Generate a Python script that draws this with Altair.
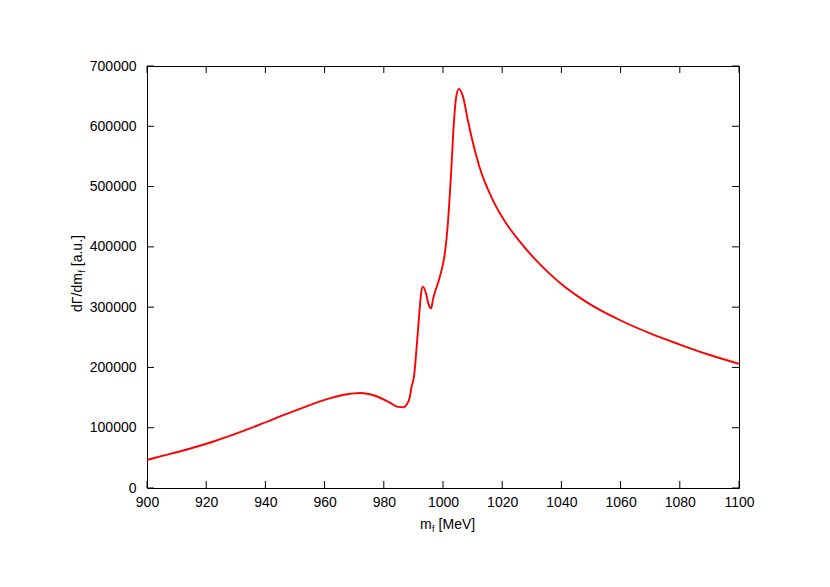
import altair as alt
import pandas as pd

# ---- data ----
mass = [900, 903.4, 913.2, 923.0, 932.8, 942.6, 952.5, 962.3, 967.2, 972.1, 977.0,
        981.9, 984.8, 986.8, 987.8, 988.8, 989.25, 990.2, 991.2, 992.0, 992.6, 993.2,
        994.25, 995.1, 996.0, 996.6, 997.1, 998.3, 999.55, 1000.5, 1001.5, 1002.8,
        1003.6, 1004.5, 1005.4, 1006.7, 1008.4, 1009.6, 1012.3, 1016.8, 1021.2, 1026.1,
        1031.0, 1035.9, 1040.8, 1045.7, 1050.6, 1060.4, 1070.2, 1080.0, 1089.9, 1100]
rate = [46500, 51000, 63500, 78000, 95000, 114000, 133000, 149500, 155000, 157500,
        153000, 142000, 134500, 134000, 139000, 151000, 165000, 185000, 240000, 290000,
        323000, 334000, 323000, 305000, 298000, 312000, 322000, 340000, 362000, 385000,
        430000, 528000, 600000, 650000, 662000, 650000, 610000, 583000, 533000, 478000,
        440000, 408000, 380000, 356000, 335000, 317500, 302000, 277000, 256000, 238000,
        221000, 206000]

x_ticks = [900, 920, 940, 960, 980, 1000, 1020, 1040, 1060, 1080, 1100]
y_ticks = [0, 100000, 200000, 300000, 400000, 500000, 600000, 700000]

W, H = 592, 422
FONT = "Liberation Sans"
FS = 14

df = pd.DataFrame({"mass": mass, "rate": rate})
xt = pd.DataFrame({"mass": x_ticks})
yt = pd.DataFrame({"rate": y_ticks})
one = pd.DataFrame({"a": [0]})

xscale = alt.Scale(domain=[900, 1100], nice=False, zero=False)
yscale = alt.Scale(domain=[0, 700000], nice=False)

xaxis = alt.Axis(values=x_ticks, title=None, ticks=False, domain=False, grid=False,
                 labelFontSize=FS, labelFont=FONT, labelColor="black",
                 labelPadding=7, labelFlush=False, labelOverlap=False, format="d")
yaxis = alt.Axis(values=y_ticks, title=None, ticks=False, domain=False, grid=False,
                 labelFontSize=FS, labelFont=FONT, labelColor="black",
                 labelPadding=11, labelOverlap=False, format="d")

X = alt.X("mass:Q", scale=xscale, axis=xaxis)
Y = alt.Y("rate:Q", scale=yscale, axis=yaxis)

line = alt.Chart(df).mark_line(color="#ff0000", strokeWidth=1.9, interpolate="monotone").encode(
    x=X, y=Y)

TL = 7
bottom = alt.Chart(xt).mark_rule(color="black", strokeWidth=1).encode(
    x=X, y=alt.value(H), y2=alt.value(H - TL))
top = alt.Chart(xt).mark_rule(color="black", strokeWidth=1).encode(
    x=X, y=alt.value(0), y2=alt.value(TL))
left = alt.Chart(yt).mark_rule(color="black", strokeWidth=1).encode(
    y=Y, x=alt.value(0), x2=alt.value(TL))
right = alt.Chart(yt).mark_rule(color="black", strokeWidth=1).encode(
    y=Y, x=alt.value(W), x2=alt.value(W - TL))


def txt(s, x, y, size=FS, dx=0, dy=0, angle=0):
    kw = dict(align="left", baseline="alphabetic", font=FONT, fontSize=size,
              color="black", dx=dx, dy=dy)
    if angle:
        kw["angle"] = angle
    return alt.Chart(one).mark_text(**kw).encode(
        x=alt.value(x), y=alt.value(y), text=alt.value(s))


# x title: m_f [MeV]
xt_x = 273
xt_y = H + 41
xtitle = (txt("m", xt_x, xt_y) + txt("f", xt_x, xt_y, size=9, dx=12.0, dy=3)
          + txt("[MeV]", xt_x, xt_y, dx=18.6))

# y title: dΓ/dm_f [a.u.] (rotated)
yt_x = -65
yt_y = 246
ytitle = (txt("dΓ/dm", yt_x, yt_y, angle=270)
          + txt("f", yt_x, yt_y, size=9, dx=39.4, dy=3, angle=270)
          + txt("[a.u.]", yt_x, yt_y, dx=45.8, angle=270))

chart = alt.layer(line, bottom, top, left, right, xtitle, ytitle).properties(
    width=W, height=H,
    autosize=alt.AutoSizeParams(type="none"),
    padding={"left": 139, "top": 58, "right": 20, "bottom": 60},
    background="white",
).configure_view(stroke="black", strokeWidth=1)

chart.save("out.html", embed_options={"renderer": "svg", "actions": False})
